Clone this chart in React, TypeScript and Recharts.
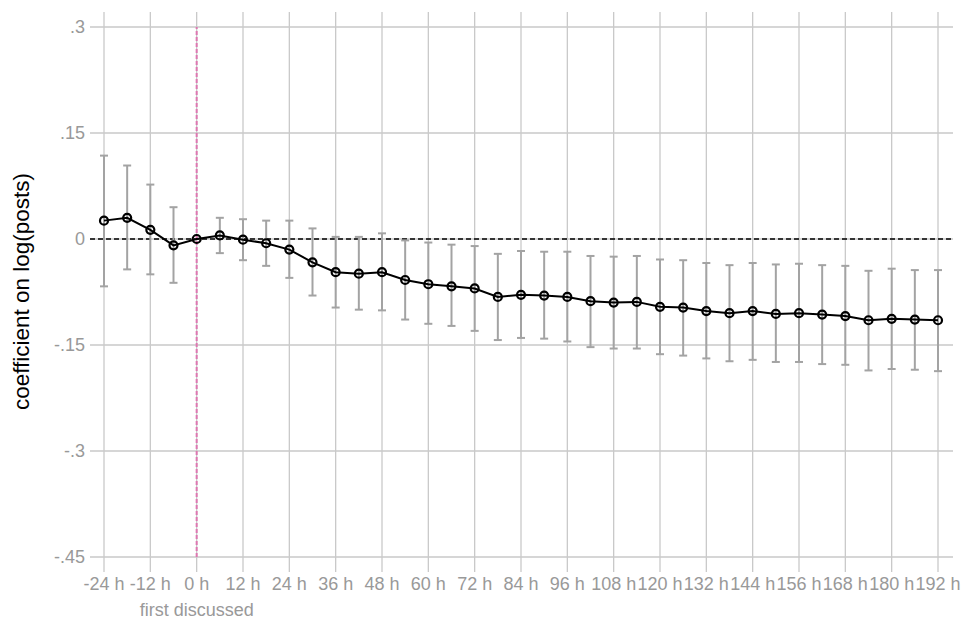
import {
  LineChart,
  Line,
  XAxis,
  YAxis,
  CartesianGrid,
  ReferenceLine,
  ErrorBar,
} from "recharts";

// hours relative to first discussion
const hours = [
  -24, -18, -12, -6, 0, 6, 12, 18, 24, 30, 36, 42, 48, 54, 60, 66, 72, 78, 84,
  90, 96, 102, 108, 114, 120, 126, 132, 138, 144, 150, 156, 162, 168, 174, 180,
  186, 192,
];

const coef = [
  0.026, 0.03, 0.013, -0.009, 0, 0.005, -0.001, -0.006, -0.015, -0.033, -0.047,
  -0.049, -0.047, -0.058, -0.064, -0.067, -0.07, -0.082, -0.079, -0.08, -0.082,
  -0.088, -0.09, -0.089, -0.096, -0.097, -0.102, -0.105, -0.102, -0.106,
  -0.105, -0.107, -0.109, -0.115, -0.113, -0.114, -0.115,
];

const ciLow = [
  -0.067, -0.043, -0.05, -0.062, null, -0.02, -0.03, -0.038, -0.055, -0.08,
  -0.097, -0.1, -0.101, -0.114, -0.12, -0.123, -0.13, -0.143, -0.14, -0.141,
  -0.145, -0.153, -0.155, -0.155, -0.163, -0.165, -0.169, -0.173, -0.171,
  -0.174, -0.174, -0.177, -0.178, -0.186, -0.184, -0.185, -0.187,
];

const ciHigh = [
  0.118, 0.104, 0.077, 0.045, null, 0.03, 0.028, 0.026, 0.026, 0.015, 0.003,
  0.003, 0.008, -0.002, -0.005, -0.008, -0.01, -0.021, -0.017, -0.018, -0.018,
  -0.024, -0.025, -0.024, -0.029, -0.03, -0.034, -0.037, -0.034, -0.036,
  -0.035, -0.037, -0.038, -0.045, -0.042, -0.044, -0.044,
];

const xTicks = [-24, -12, 0, 12, 24, 36, 48, 60, 72, 84, 96, 108, 120, 132, 144, 156, 168, 180, 192];
const xTickLabels = [
  "-24 h", "-12 h", "0 h", "12 h", "24 h", "36 h", "48 h", "60 h", "72 h", "84 h",
  "96 h", "108 h", "120 h", "132 h", "144 h", "156 h", "168 h", "180 h", "192 h",
];
const yTicks = [0.3, 0.15, 0, -0.15, -0.3, -0.45];
const yTickLabels = [".3", ".15", "0", "-.15", "-.3", "-.45"];

const FONT = '"Liberation Sans", Arial, sans-serif';
const GRID = "#c9c9c9";
const TICK_TEXT = "#999999";
const PINK = "#de78b2";

const data = hours.map((h, i) => ({
  hour: h,
  coef: coef[i],
  err:
    ciLow[i] == null || ciHigh[i] == null
      ? undefined
      : [coef[i] - (ciLow[i] as number), (ciHigh[i] as number) - coef[i]],
}));

const scaleOf = (axis: any) => {
  const s = axis?.scale;
  if (typeof s === "function") return s;
  if (s && typeof s.map === "function") return (v: number) => s.map(v);
  return null;
};

const YLabel = (props: any) => {
  const vb = props.viewBox;
  const x = vb.x + 29;
  const y = vb.y + vb.height / 2 + 7;
  return (
    <text
      x={x}
      y={y}
      transform={`rotate(-90 ${x} ${y})`}
      textAnchor="middle"
      fontSize={22.5}
      fontFamily={FONT}
      fill="#000"
    >
      coefficient on log(posts)
    </text>
  );
};

export default function App() {
  return (
    <div
      style={{
        position: "absolute",
        left: 0,
        top: 0,
        width: 961,
        height: 622,
        background: "#fff",
      }}
    >
      <LineChart
        width={961}
        height={622}
        data={data}
        margin={{ top: 12, right: 8, bottom: 0, left: 0 }}
        style={{ fontFamily: FONT }}
      >
        <CartesianGrid
          stroke={GRID}
          strokeWidth={1.3}
          horizontalCoordinatesGenerator={({ yAxis }: any) => {
            const s = scaleOf(yAxis);
            return s ? yTicks.map((t) => s(t)) : [];
          }}
          verticalCoordinatesGenerator={({ xAxis }: any) => {
            const s = scaleOf(xAxis);
            return s ? xTicks.map((t) => s(t)) : [];
          }}
        />
        <XAxis
          dataKey="hour"
          type="number"
          domain={[-24, 192]}
          ticks={xTicks}
          interval={0}
          tickFormatter={(v) => xTickLabels[xTicks.indexOf(v)]}
          padding={{ left: 14, right: 15 }}
          axisLine={false}
          tickLine={{ stroke: GRID, strokeWidth: 1.3 }}
          tickSize={15}
          tickMargin={5}
          height={65}
          tick={{ fontSize: 18, fill: TICK_TEXT, fontFamily: FONT }}
        />
        <YAxis
          type="number"
          domain={[-0.45, 0.3]}
          ticks={yTicks}
          allowDataOverflow
          tickFormatter={(v) => yTickLabels[yTicks.indexOf(v)]}
          padding={{ top: 15, bottom: 0 }}
          axisLine={false}
          tickLine={false}
          tickSize={5}
          tickMargin={0}
          width={90}
          tick={{ fontSize: 18, fill: TICK_TEXT, fontFamily: FONT }}
          label={{ content: YLabel }}
        />
        <ReferenceLine
          y={0}
          stroke="#000"
          strokeWidth={1.5}
          strokeDasharray="5 3"
        />
        <ReferenceLine
          x={0}
          stroke={PINK}
          strokeWidth={2}
          strokeDasharray="4 2"
          shape={(p: any) => (
            <line
              x1={p.x1}
              y1={p.y1}
              x2={p.x2}
              y2={p.y2 + 15}
              stroke={PINK}
              strokeWidth={2}
              strokeDasharray="4 2"
            />
          )}
          label={{
            value: "first discussed",
            position: "bottom",
            offset: 46,
            fill: TICK_TEXT,
            fontSize: 18,
            fontFamily: FONT,
          }}
        />
        <Line
          type="linear"
          dataKey="coef"
          stroke="#000"
          strokeWidth={2}
          dot={{ r: 4, stroke: "#000", strokeWidth: 2.2, fill: "none" }}
          isAnimationActive={false}
        >
          <ErrorBar
            dataKey="err"
            direction="y"
            width={4}
            stroke="#a3a3a3"
            strokeWidth={2}
            isAnimationActive={false}
          />
        </Line>
      </LineChart>
    </div>
  );
}
